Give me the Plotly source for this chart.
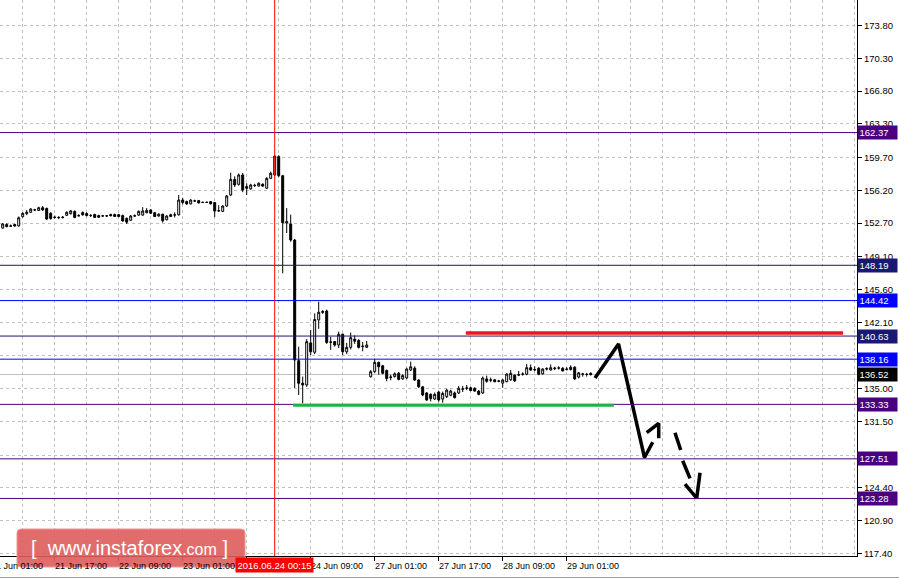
import plotly.graph_objects as go

# ---------------- data (H1 bars, index 0 = 21 Jun 01:00) ----------------
bars = list(range(3, 151))
opens = [152.17, 152.55, 152.40, 152.55, 152.39, 153.38, 153.70, 153.85, 154.10, 154.05,
         154.34, 154.27, 153.75, 153.30, 153.30, 153.28, 153.53, 153.70, 153.95, 153.50,
         153.82, 153.72, 153.52, 153.62, 153.50, 153.45, 153.48, 153.62, 153.62, 153.60,
         153.50, 153.20, 153.00, 153.45, 153.55, 153.55, 153.80, 154.10, 153.80, 153.45,
         153.65, 153.05, 153.40, 153.55, 153.58, 155.16, 155.00, 154.75, 155.05, 155.10,
         154.92, 154.90, 155.00, 154.90, 154.00, 153.95, 154.52, 155.70, 157.37, 156.84,
         157.84, 156.60, 156.35, 156.70, 156.66, 156.85, 156.42, 157.48, 157.84, 159.80,
         157.76, 152.70, 152.60, 150.89, 138.00, 135.60, 135.40, 139.90, 138.90, 142.35,
         143.15, 143.30, 139.95, 140.05, 139.67, 140.82, 138.95, 139.42, 140.30, 140.15,
         139.50, 139.42,
         136.28, 136.82, 137.82, 137.45, 136.95, 136.20, 136.30, 136.65, 136.05, 136.15,
         137.00, 137.20, 135.93, 135.20, 134.55, 134.40, 133.90, 134.65, 133.90, 134.15,
         134.30, 134.55, 134.55, 134.95, 135.05, 135.10, 135.05, 134.75, 134.55, 136.05,
         135.90, 135.95, 135.80, 135.60, 135.75, 135.95, 136.45, 136.45, 136.55, 136.55,
         137.25, 137.00, 137.20, 136.60, 137.10, 137.00, 137.15, 137.20, 137.20, 137.05,
         137.30, 137.30, 136.25, 136.55, 136.55, 136.65]
highs = [152.70, 152.68, 152.55, 152.62, 153.40, 153.85, 154.09, 154.30, 154.22, 154.45,
         154.52, 154.35, 153.85, 153.50, 153.45, 153.45, 153.95, 154.10, 154.05, 153.65,
         153.95, 153.85, 153.66, 153.70, 153.60, 153.55, 153.55, 153.70, 153.70, 153.68,
         153.60, 153.30, 153.55, 153.62, 154.05, 154.40, 154.30, 154.20, 153.90, 153.75,
         153.70, 153.55, 153.70, 153.85, 155.70, 155.40, 155.10, 155.25, 155.20, 155.15,
         155.00, 155.00, 155.05, 154.95, 154.60, 154.60, 155.70, 158.08, 157.70, 158.00,
         158.05, 156.95, 156.90, 156.90, 157.05, 156.95, 157.60, 158.20, 159.95, 159.95,
         157.85, 154.30, 153.60, 151.00, 139.49, 136.30, 140.30, 141.28, 143.05, 144.30,
         143.40, 143.45, 140.55, 140.10, 141.10, 140.90, 139.90, 141.00, 140.70, 140.30,
         140.00, 140.10,
         137.00, 138.20, 137.90, 137.55, 137.05, 136.50, 136.75, 136.80, 136.55, 137.25,
         137.90, 137.40, 136.00, 135.30, 134.65, 134.50, 134.60, 134.75, 134.70, 135.00,
         134.90, 134.70, 135.30, 135.30, 135.40, 135.20, 135.15, 134.85, 136.30, 136.40,
         136.20, 136.05, 135.95, 136.05, 136.65, 137.00, 136.55, 136.90, 136.75, 137.65,
         137.60, 137.40, 137.30, 137.20, 137.30, 137.60, 137.35, 137.40, 137.30, 137.30,
         137.50, 137.40, 136.80, 136.70, 136.70, 136.75]
lows = [152.10, 152.25, 152.30, 152.33, 152.33, 153.30, 153.55, 153.80, 153.98, 154.00,
        154.02, 153.05, 153.05, 153.18, 153.12, 153.20, 153.45, 153.62, 153.22, 153.40,
        153.50, 153.42, 153.35, 153.25, 153.25, 153.40, 153.38, 153.42, 153.35, 153.33,
        152.85, 152.60, 152.95, 153.35, 153.48, 153.50, 153.75, 153.70, 153.35, 153.40,
        152.75, 153.00, 153.35, 153.30, 153.50, 154.70, 154.65, 154.70, 154.95, 154.80,
        154.85, 154.85, 154.70, 153.35, 153.90, 153.90, 154.45, 155.60, 156.55, 156.70,
        156.00, 155.70, 156.25, 156.55, 156.60, 156.60, 156.35, 157.40, 157.70, 157.60,
        147.34, 151.64, 150.70, 135.08, 134.33, 133.45, 135.20, 138.60, 138.70, 141.40,
        143.00, 139.80, 139.15, 139.50, 139.35, 138.60, 138.70, 139.20, 139.80, 139.30,
        139.00, 139.40,
        136.20, 136.70, 136.50, 136.55, 135.80, 135.90, 136.20, 135.90, 135.95, 136.05,
        136.90, 135.85, 135.10, 134.20, 133.70, 133.65, 133.80, 133.60, 133.50, 134.00,
        134.20, 133.95, 134.45, 134.65, 134.85, 134.75, 134.70, 134.30, 134.45, 135.65,
        135.70, 135.70, 135.70, 135.10, 135.70, 135.85, 135.75, 136.35, 136.40, 136.45,
        136.90, 136.85, 136.45, 136.50, 136.95, 136.95, 137.00, 137.05, 136.85, 136.95,
        136.95, 135.95, 136.10, 136.30, 136.30, 136.40]
closes = [152.60, 152.32, 152.37, 152.38, 153.27, 153.74, 153.86, 154.20, 154.12, 154.34,
          154.10, 153.13, 153.20, 153.32, 153.28, 153.32, 153.85, 154.00, 153.30, 153.48,
          153.58, 153.50, 153.50, 153.30, 153.32, 153.47, 153.46, 153.48, 153.40, 153.40,
          152.92, 152.80, 153.45, 153.48, 153.95, 154.00, 154.05, 153.75, 153.40, 153.65,
          152.95, 153.45, 153.60, 153.58, 155.16, 154.90, 154.75, 155.16, 155.08, 154.85,
          154.90, 154.92, 154.75, 153.99, 154.02, 154.52, 155.59, 157.37, 156.77, 157.84,
          156.23, 156.42, 156.77, 156.73, 156.95, 156.65, 157.48, 158.02, 159.86, 157.76,
          152.74, 152.85, 150.89, 138.07, 135.58, 135.40, 140.03, 138.95, 142.40, 143.17,
          143.25, 139.95, 140.00, 139.67, 140.82, 138.95, 139.42, 140.45, 140.08, 139.42,
          139.55, 139.67,
          136.82, 137.82, 137.35, 136.65, 136.10, 136.25, 136.60, 136.00, 136.40, 137.10,
          137.35, 135.93, 135.20, 134.33, 133.80, 133.95, 134.40, 133.80, 134.50, 134.85,
          134.75, 134.05, 135.05, 134.98, 135.08, 134.80, 134.75, 134.40, 136.15, 135.80,
          135.95, 135.75, 135.82, 135.93, 136.57, 136.65, 135.83, 136.50, 136.57, 137.25,
          137.00, 137.05, 136.55, 137.10, 137.15, 137.25, 137.20, 137.22, 136.90, 137.10,
          137.05, 136.05, 136.70, 136.57, 136.52, 136.52]

x_tick_bars = [0, 16, 32, 48, 64, 80, 96, 112, 128, 144]
x_tick_labels = ["21 Jun 01:00", "21 Jun 17:00", "22 Jun 09:00", "23 Jun 01:00", "23 Jun 17:00",
                 "24 Jun 09:00", "27 Jun 01:00", "27 Jun 17:00", "28 Jun 09:00", "29 Jun 01:00"]
y_tick_vals = [117.40, 120.90, 124.40, 127.90, 131.50, 135.00, 138.50, 142.10, 145.60,
               149.10, 152.70, 156.20, 159.70, 163.30, 166.80, 170.30, 173.80]
y_tick_labels = ["117.40", "120.90", "124.40", "127.90", "131.50", "135.00", "138.50", "142.10",
                 "145.60", "149.10", "152.70", "156.20", "159.70", "163.30", "166.80", "170.30",
                 "173.80"]

levels = [162.37, 148.19, 144.42, 140.63, 138.16, 133.33, 127.51, 123.28]
level_colors = ["#4B0082", "#191970", "#0000FF", "#191970", "#0000FF", "#4B0082", "#4B0082", "#4B0082"]
current_price = 136.52

resistance = 140.96
resistance_bars = [118.8, 213.1]
support = 133.23
support_bars = [75.6, 155.8]

cursor_bar = 71
cursor_label = "2016.06.24 00:15"

# hand-drawn forecast arrow (bar index, price); None separates strokes
arrow_bars = [151.08, 156.95, 163.45, 165.5, None, 164.0, 167.0, 167.0, None,
              171.08, 172.5, None, 173.0, 174.83, None, 173.58, 176.5, 177.33]
arrow_prices = [136.15, 139.78, 127.65, 129.28, None, 130.30, 131.31, 129.70, None,
                130.30, 128.45, None, 127.31, 125.43, None, 124.82, 123.30, 126.03]

# ---------------- figure ----------------
X_RANGE = [2.325, 216.575]
Y_RANGE = [117.13, 176.534]
FONT = "Liberation Sans"

fig = go.Figure()

fig.add_trace(go.Candlestick(
    x=bars, open=opens, high=highs, low=lows, close=closes,
    increasing=dict(line=dict(color="black", width=1), fillcolor="white"),
    decreasing=dict(line=dict(color="black", width=1), fillcolor="black"),
    whiskerwidth=0, hoverinfo="skip", showlegend=False))

fig.add_trace(go.Scatter(
    x=arrow_bars, y=arrow_prices, mode="lines", connectgaps=False,
    line=dict(color="black", width=3.5), hoverinfo="skip", showlegend=False))

shapes = []
for lv, col in zip(levels, level_colors):
    shapes.append(dict(type="line", xref="paper", x0=0, x1=1, yref="y", y0=lv, y1=lv,
                       line=dict(color=col, width=1), layer="above"))
shapes.append(dict(type="line", xref="paper", x0=0, x1=1, yref="y", y0=current_price,
                   y1=current_price, line=dict(color="#C0C0C0", width=1), layer="below"))
shapes.append(dict(type="line", xref="x", x0=resistance_bars[0], x1=resistance_bars[1],
                   yref="y", y0=resistance, y1=resistance,
                   line=dict(color="#E8161E", width=3.5), layer="above"))
shapes.append(dict(type="line", xref="x", x0=support_bars[0], x1=support_bars[1],
                   yref="y", y0=support, y1=support,
                   line=dict(color="#22B04B", width=3), layer="above"))
shapes.append(dict(type="line", xref="x", x0=cursor_bar, x1=cursor_bar, yref="paper",
                   y0=0, y1=1, line=dict(color="#FF0000", width=1), layer="above"))

# watermark box (paper coords; plot area is 857 x 556 px)
def px(xp):
    return xp / 857.0

def py(yp):
    return 1 - yp / 556.0

# window frame line at the bottom
shapes.append(dict(type="line", xref="paper", yref="paper", x0=0, x1=px(899), y0=py(577.5),
                   y1=py(577.5), line=dict(color="#A0A0A0", width=1), layer="above"))

x0, x1, y0, y1, r = 17, 245, 529, 567, 4
path = (f"M {px(x0+r)},{py(y0)} L {px(x1-r)},{py(y0)} Q {px(x1)},{py(y0)} {px(x1)},{py(y0+r)} "
        f"L {px(x1)},{py(y1-r)} Q {px(x1)},{py(y1)} {px(x1-r)},{py(y1)} "
        f"L {px(x0+r)},{py(y1)} Q {px(x0)},{py(y1)} {px(x0)},{py(y1-r)} "
        f"L {px(x0)},{py(y0+r)} Q {px(x0)},{py(y0)} {px(x0+r)},{py(y0)} Z")
shapes.append(dict(type="path", xref="paper", yref="paper", path=path,
                   fillcolor="rgba(222,92,92,0.9)", line=dict(color="rgba(240,150,150,1)", width=1),
                   layer="above"))

annotations = []
annotations.append(dict(
    xref="paper", yref="paper", x=px(129), y=py(548), xanchor="center", yanchor="middle",
    text="[&nbsp;&nbsp;www.instaforex<span style='font-size:16px'>.com</span>&nbsp;]",
    showarrow=False, font=dict(family=FONT, size=20, color="white")))

# x-axis labels (left-aligned at tick, MT4 style)
for b, lab in zip(x_tick_bars, x_tick_labels):
    if b < X_RANGE[0]:
        xp = (b - X_RANGE[0]) / (X_RANGE[1] - X_RANGE[0])
        annotations.append(dict(xref="paper", x=xp, yref="paper", y=0, xanchor="left",
                                yanchor="top", yshift=-3, xshift=-2, text=lab, showarrow=False,
                                font=dict(family=FONT, size=9, color="black")))
    else:
        annotations.append(dict(xref="x", x=b, yref="paper", y=0, xanchor="left",
                                yanchor="top", yshift=-3, xshift=-2, text=lab, showarrow=False,
                                font=dict(family=FONT, size=9, color="black")))

# coloured price labels on the right axis
for lv, col in zip(levels + [current_price], level_colors + ["black"]):
    annotations.append(dict(xref="paper", x=1, xanchor="left", yref="y", y=lv, yanchor="middle",
                            text=f"{lv:.2f}", showarrow=False, bgcolor=col, width=36, height=10,
                            borderpad=1.5, align="left",
                            font=dict(family=FONT, size=9.5, color="white")))

# cursor time label
annotations.append(dict(xref="x", x=cursor_bar, xanchor="center", yref="paper", y=0,
                        yanchor="top", yshift=-1, text=cursor_label, showarrow=False,
                        bgcolor="#FF0000", borderpad=1.5,
                        font=dict(family=FONT, size=9.5, color="white")))

fig.update_layout(
    width=899, height=580, margin=dict(l=0, r=42, t=0, b=24),
    paper_bgcolor="white", plot_bgcolor="white", showlegend=False,
    font=dict(family=FONT, size=9, color="black"),
    shapes=shapes, annotations=annotations,
    xaxis=dict(range=X_RANGE, rangeslider=dict(visible=False), tickmode="array",
               tickvals=x_tick_bars, ticktext=[""] * len(x_tick_bars), showticklabels=False,
               ticks="outside", ticklen=4, tickcolor="black",
               showgrid=True, gridcolor="#C0C0C0", griddash="3px,3px", gridwidth=1,
               minor=dict(tickmode="linear", tick0=0, dtick=8, showgrid=True,
                          gridcolor="#C0C0C0", griddash="3px,3px", ticks=""),
               showline=True, linecolor="black", linewidth=1, zeroline=False, fixedrange=True),
    yaxis=dict(range=Y_RANGE, side="right", tickmode="array", tickvals=y_tick_vals,
               ticktext=y_tick_labels, ticks="outside", ticklen=4, tickcolor="black",
               tickfont=dict(family=FONT, size=9.5, color="black"),
               showgrid=True, gridcolor="#C0C0C0", griddash="3px,3px", gridwidth=1,
               showline=True, linecolor="black", linewidth=1, zeroline=False, fixedrange=True),
)

fig.write_html("out.html", config={"displayModeBar": False},
               post_script="document.body.style.margin='0';document.body.style.overflow='hidden';")
